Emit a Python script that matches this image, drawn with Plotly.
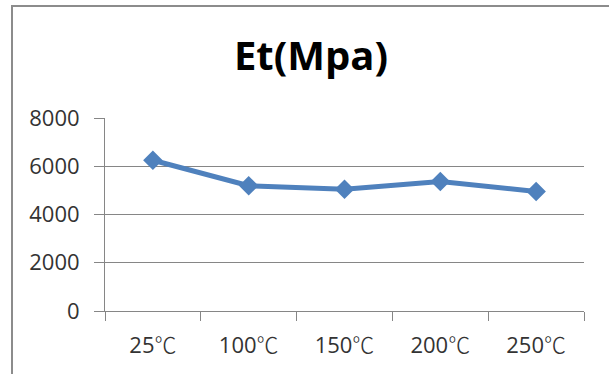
import plotly.graph_objects as go

# Elastic modulus Et (MPa) at each test temperature
temperatures = ["25℃", "100℃", "150℃", "200℃", "250℃"]
et_mpa = [6250, 5190, 5050, 5370, 4950]
y_ticks = [0, 2000, 4000, 6000, 8000]

line_blue = "#4F81BD"
axis_gray = "#868686"
label_font = dict(family="Open Sans", size=22, color="#333333")

# degree-Celsius sign set in a CJK face, like the rest of the label
temp_labels = [
    t.replace("℃", "<span style='font-family:Noto Sans CJK SC;font-weight:300'>℃</span>")
    for t in temperatures
]

fig = go.Figure(
    go.Scatter(
        x=temperatures,
        y=et_mpa,
        mode="lines+markers",
        line=dict(color=line_blue, width=5),
        marker=dict(symbol="diamond", size=15, color=line_blue),
        showlegend=False,
        hoverinfo="x+y",
    )
)

fig.update_layout(
    width=609,
    height=374,
    margin=dict(l=105, r=25, t=118, b=63),
    paper_bgcolor="white",
    plot_bgcolor="white",
    title=dict(
        text="<b>Et(Mpa)</b>",
        x=311 / 609,
        xanchor="center",
        xref="container",
        y=1 - 56 / 374,
        yanchor="middle",
        font=dict(family="Open Sans", size=40, color="black"),
    ),
    shapes=[
        # outer chart-area frame
        dict(
            type="rect",
            xref="paper",
            yref="paper",
            x0=(12 - 105) / 479,
            x1=1.3,
            y0=-0.6,
            y1=(311 - 6) / 193,
            line=dict(color="#8C8C8C", width=2),
            fillcolor="rgba(0,0,0,0)",
            layer="below",
        )
    ],
)

fig.update_xaxes(
    type="category",
    range=[-0.5, len(temperatures) - 0.5],
    tickmode="array",
    tickvals=temperatures,
    ticktext=temp_labels,
    tickson="boundaries",
    ticks="outside",
    ticklen=9,
    tickcolor=axis_gray,
    showline=True,
    linecolor=axis_gray,
    linewidth=1,
    showgrid=False,
    tickfont=label_font,
    ticklabelstandoff=15,
)

fig.update_yaxes(
    range=[0, 8000],
    tickvals=y_ticks,
    ticks="outside",
    ticklen=10,
    tickcolor=axis_gray,
    showline=True,
    linecolor=axis_gray,
    linewidth=1,
    showgrid=True,
    gridcolor=axis_gray,
    gridwidth=1,
    zeroline=False,
    tickfont=label_font,
    ticklabelstandoff=10,
)

fig.write_html("out.html")
